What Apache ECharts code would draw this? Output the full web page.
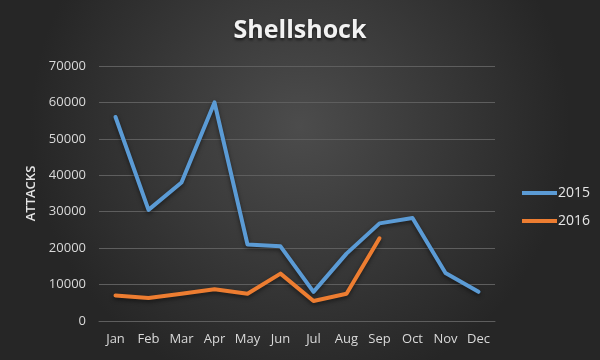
<!DOCTYPE html>
<html><head><meta charset="utf-8">
<script src="https://cdn.jsdelivr.net/npm/echarts@6/dist/echarts.min.js"></script>
<style>html,body{margin:0;padding:0;}#c{width:600px;height:360px;}</style>
</head><body><div id="c"></div>
<script>
const months = ['Jan','Feb','Mar','Apr','May','Jun','Jul','Aug','Sep','Oct','Nov','Dec'];
const s2015 = [56000,30500,38000,60000,21000,20500,8000,18500,26800,28300,13200,8000];
const s2016 = [7000,6300,7500,8700,7500,13000,5500,7500,22700];
const yTicks = [0,10000,20000,30000,40000,50000,60000,70000];

const font = 'Open Sans, Noto Sans, sans-serif';
const chart = echarts.init(document.getElementById('c'));
const lineStyle = (c) => ({width: 4, color: c, shadowColor: 'rgba(0,0,0,0.5)', shadowBlur: 4, shadowOffsetY: 2, cap: 'round', join: 'round'});
chart.setOption({
  backgroundColor: {type: 'radial', x: 0.5, y: 0.35, r: 0.75,
    colorStops: [{offset: 0, color: '#4c4c4c'}, {offset: 1, color: '#262626'}]},
  title: {text: 'Shellshock', left: 'center', top: 13,
    textStyle: {color: '#f2f2f2', fontSize: 25, fontWeight: 'bold', fontFamily: font,
      textShadowColor: 'rgba(0,0,0,0.6)', textShadowBlur: 3, textShadowOffsetY: 2}},
  legend: {orient: 'vertical', left: 517, top: 181, itemWidth: 35, itemHeight: 4, itemGap: 14,
    icon: 'rect',
    textStyle: {color: '#e6e6e6', fontSize: 14, fontFamily: font, padding: [0, 0, 0, -4]},
    data: ['2015', '2016']},
  grid: {left: 99, right: 105, top: 66, bottom: 39},
  xAxis: {type: 'category', data: months, boundaryGap: true,
    axisLine: {lineStyle: {color: '#5e5e5e'}}, axisTick: {show: false},
    axisLabel: {color: '#d9d9d9', fontSize: 13, fontFamily: font, margin: 12, interval: 0}},
  yAxis: {type: 'value', min: yTicks[0], max: yTicks[yTicks.length-1], interval: 10000,
    name: 'ATTACKS', nameLocation: 'middle', nameGap: 58, nameRotate: 90,
    nameTextStyle: {color: '#e6e6e6', fontSize: 13, fontWeight: 600, fontFamily: font},
    axisLine: {show: false}, axisTick: {show: false},
    splitLine: {lineStyle: {color: '#5e5e5e', width: 1}},
    axisLabel: {color: '#d9d9d9', fontSize: 13, fontFamily: font, margin: 13,
      formatter: (v) => String(v)}},
  series: [
    {name: '2015', type: 'line', data: s2015, showSymbol: false, symbol: 'none', color: '#5b9bd5', lineStyle: lineStyle('#5b9bd5')},
    {name: '2016', type: 'line', data: s2016, showSymbol: false, symbol: 'none', color: '#ed7d31', lineStyle: lineStyle('#ed7d31')}
  ]
});
</script></body></html>
